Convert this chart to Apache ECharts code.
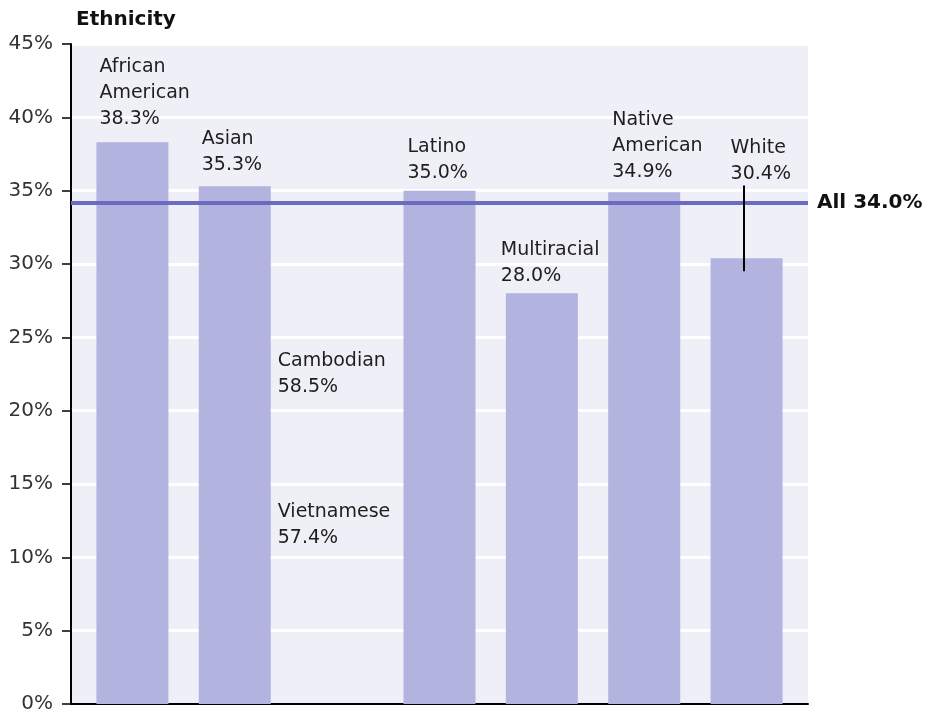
<!DOCTYPE html>
<html><head><meta charset="utf-8">
<script src="https://cdn.jsdelivr.net/npm/echarts@6/dist/echarts.min.js"></script>
<style>html,body{margin:0;padding:0;background:#fff}#chart{width:936px;height:714px}</style>
</head><body><div id="chart"></div>
<script>
// ---- data ----
const categories = ['African\nAmerican', 'Asian', '', 'Latino', 'Multiracial', 'Native\nAmerican', 'White'];
const rates = [38.3, 35.3, null, 35.0, 28.0, 34.9, 30.4];
const allLabel = 'All 34.0%';
const allLineValue = 34.2;
const subgroups = ['Cambodian', 'Vietnamese'];
const subgroupRates = [58.5, 57.4];
const yTicks = [0, 5, 10, 15, 20, 25, 30, 35, 40, 45];
const title = 'Ethnicity';

// ---- layout / style ----
const FONT = 'DejaVu Sans';
const labelShiftX = [3, 3, 0, 4, -5, 4, 20];
const labelLift = [-10, -8, 0, -5, -4, -7, -71];
const subgroupAnchors = [[1.42, 22.5], [1.42, 12.2]];

const barData = [];
rates.forEach((v, i) => {
  if (v == null) return;
  barData.push({
    value: [i, v],
    label: {
      show: true,
      position: [labelShiftX[i], labelLift[i]],
      align: 'left',
      verticalAlign: 'bottom',
      formatter: categories[i] + '\n' + v.toFixed(1) + '%'
    }
  });
});

const subData = subgroups.map((s, i) => ({
  value: subgroupAnchors[i],
  label: { formatter: s + '\n' + subgroupRates[i].toFixed(1) + '%' }
}));

const chart = echarts.init(document.getElementById('chart'), null, { renderer: 'canvas' });
chart.setOption({
  animation: false,
  textStyle: { fontFamily: FONT },
  title: {
    text: title, left: 76, top: 9, padding: 0,
    textStyle: { fontFamily: FONT, fontSize: 20, fontWeight: 'bold', color: '#111', lineHeight: 22 }
  },
  grid: {
    left: 71, right: 128, top: 44, bottom: 6,
    show: true, backgroundColor: '#EFEFF7', borderWidth: 0
  },
  xAxis: {
    type: 'value', min: -0.6, max: 6.6,
    axisLine: { show: true, onZero: false, lineStyle: { color: '#000', width: 2 } },
    axisTick: { show: false }, axisLabel: { show: false }, splitLine: { show: false }
  },
  yAxis: {
    type: 'value', min: yTicks[0], max: yTicks[yTicks.length - 1], interval: yTicks[1] - yTicks[0],
    axisLine: { show: true, onZero: false, lineStyle: { color: '#000', width: 2 } },
    axisTick: { show: true, length: 9, lineStyle: { color: '#000', width: 1.5 } },
    axisLabel: { margin: 18, fontFamily: FONT, fontSize: 20, color: '#333', formatter: '{value}%' },
    splitLine: { show: true, lineStyle: { color: '#fff', width: 3 } }
  },
  series: [
    {
      type: 'bar',
      data: barData,
      barWidth: 72,
      itemStyle: { color: '#B3B3E0' },
      emphasis: { disabled: true },
      label: { fontFamily: FONT, fontSize: 19, lineHeight: 26, color: '#1e1e1e' }
    },
    {
      type: 'scatter',
      symbolSize: 0,
      data: subData,
      itemStyle: { opacity: 1 },
      emphasis: { disabled: true },
      label: {
        show: true, position: 'right', distance: 0,
        fontFamily: FONT, fontSize: 19, lineHeight: 26, color: '#1e1e1e'
      },
      markLine: {
        silent: true,
        symbol: ['none', 'none'],
        data: [
          {
            yAxis: allLineValue,
            lineStyle: { color: '#6B6BBF', width: 4, type: 'solid' },
            label: { show: true, position: 'end', distance: 9, formatter: allLabel,
              fontFamily: FONT, fontSize: 20, fontWeight: 'bold', color: '#111' }
          },
          [
            { coord: [5.97, 35.35], lineStyle: { color: '#000', width: 2, type: 'solid' }, label: { show: false } },
            { coord: [5.97, 29.5] }
          ]
        ]
      }
    }
  ]
});
</script></body></html>
